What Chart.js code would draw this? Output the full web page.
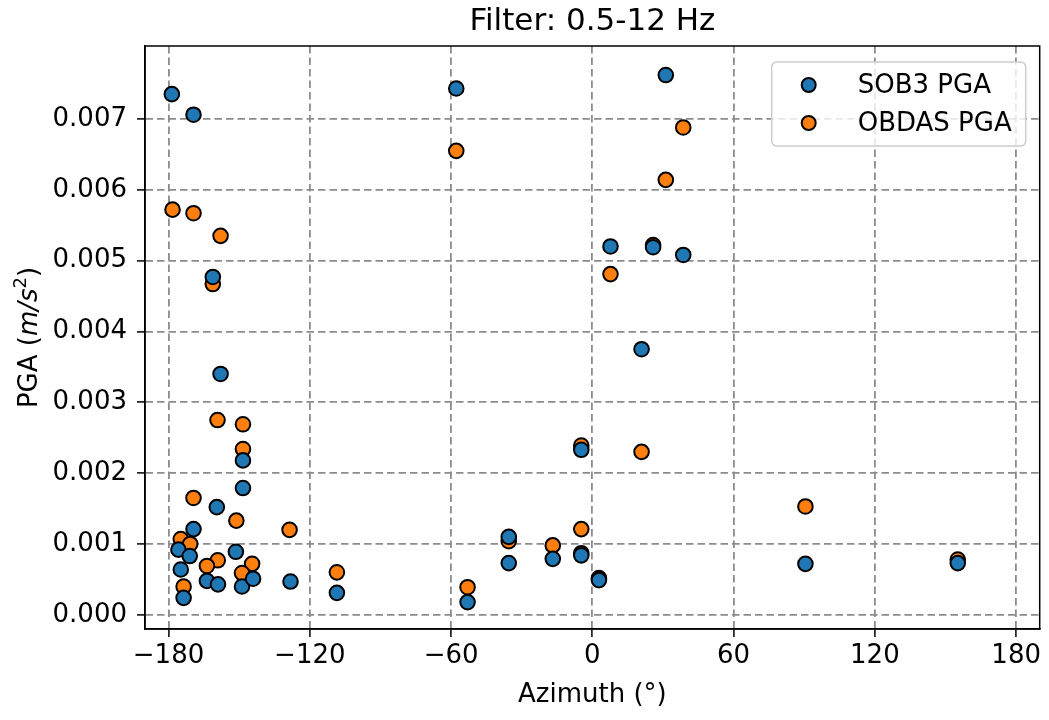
<!DOCTYPE html>
<html>
<head>
<meta charset="utf-8">
<script src="https://cdn.jsdelivr.net/npm/chart.js@4/dist/chart.umd.min.js"></script>
<style>
    body { margin: 0; background: #fff; }
    #wrap { width: 1049px; height: 720px; }
</style>
</head>
<body>
<div id="wrap"><canvas id="pgaChart" width="1049" height="720"></canvas></div>
<script>
// azimuth (deg) and PGA (m/s^2)
const sob3Azimuth = [-178.6, -169.4, -161.2, -157.9, -148.4, -148.4, -159.5, -169.4, -175.8, -171.0,
    -151.4, -174.8, -163.7, -159.0, -148.8, -144.1, -173.6, -128.2, -108.5, -57.8,
    -53.0, -35.5, -35.5, -16.8, -4.7, -4.7, 2.8, 31.2, 7.7, 25.8,
    38.6, 20.9, 90.5, 155.2];
const sob3Pga = [0.00735, 0.00706, 0.00477, 0.00340, 0.00218, 0.00179, 0.00152, 0.00121, 0.00092, 0.00083,
    0.00089, 0.00064, 0.00048, 0.00043, 0.00040, 0.00051, 0.00024, 0.00047, 0.00031, 0.00743,
    0.00018, 0.00110, 0.00073, 0.00079, 0.00233, 0.00084, 0.00049, 0.00762, 0.00520, 0.00519,
    0.00508, 0.00375, 0.00072, 0.00073];

const obdasAzimuth = [-178.3, -169.4, -157.9, -161.2, -159.2, -148.4, -148.4, -169.4, -151.2, -128.6,
    -174.8, -170.8, -159.1, -163.7, -144.5, -148.8, -173.6, -108.5, -57.8, -53.0,
    -35.5, -16.8, -4.7, -4.7, -4.7, 2.8, 38.6, 31.2, 25.8, 7.7,
    20.9, 90.5, 155.2];
const obdasPga = [0.00572, 0.00567, 0.00535, 0.00467, 0.00275, 0.00269, 0.00234, 0.00165, 0.00133, 0.00120,
    0.00107, 0.00100, 0.00077, 0.00069, 0.00072, 0.00059, 0.00040, 0.00060, 0.00655, 0.00039,
    0.00104, 0.00098, 0.00239, 0.00121, 0.00087, 0.00052, 0.00688, 0.00614, 0.00522, 0.00481,
    0.00230, 0.00153, 0.00078];

const xTicks = [-180, -120, -60, 0, 60, 120, 180];
const yTicks = [0, 0.001, 0.002, 0.003, 0.004, 0.005, 0.006, 0.007];

const seriesNames = ['SOB3 PGA', 'OBDAS PGA'];
const blue = '#1f77b4';
const orange = '#ff7f0e';

const FONT = 'DejaVu Sans';
const gridColor = '#8c8c8c';

function toPoints(xs, ys) {
    return xs.map((x, i) => ({ x: x, y: ys[i] }));
}

// box around the plot like matplotlib's spines
const frame = {
    id: 'frame',
    afterDatasetsDraw(chart) {
        const { ctx, chartArea: a } = chart;
        ctx.save();
        ctx.strokeStyle = '#000';
        ctx.lineWidth = 1.5;
        ctx.strokeRect(a.left, a.top, a.right - a.left, a.bottom - a.top);
        ctx.restore();
    }
};

// y label with italic units and a raised 2, like mathtext
const yLabel = {
    id: 'yLabel',
    afterDraw(chart) {
        const { ctx, chartArea: a } = chart;
        const parts = [
            { t: 'PGA (', f: '26px "' + FONT + '"', dy: 0 },
            { t: 'm/s', f: 'oblique 26px "' + FONT + '"', dy: 0 },
            { t: '2', f: '18px "' + FONT + '"', dy: -11 },
            { t: ')', f: '26px "' + FONT + '"', dy: 0 }
        ];
        ctx.save();
        let total = 0;
        parts.forEach(p => { ctx.font = p.f; p.w = ctx.measureText(p.t).width; total += p.w; });
        ctx.translate(37, (a.top + a.bottom) / 2);
        ctx.rotate(-Math.PI / 2);
        ctx.fillStyle = '#000';
        ctx.textBaseline = 'alphabetic';
        let x = -total / 2;
        parts.forEach(p => {
            ctx.font = p.f;
            ctx.fillText(p.t, x, p.dy);
            x += p.w;
        });
        ctx.restore();
    }
};

// legend drawn inside the upper right corner of the plot
const innerLegend = {
    id: 'innerLegend',
    afterDraw(chart) {
        const { ctx, chartArea: a } = chart;
        const boxW = 254, boxH = 84;
        const x0 = a.right - 14 - boxW, y0 = a.top + 16;
        ctx.save();
        ctx.beginPath();
        ctx.roundRect(x0, y0, boxW, boxH, 5);
        ctx.fillStyle = 'rgba(255,255,255,0.8)';
        ctx.fill();
        ctx.strokeStyle = '#cccccc';
        ctx.lineWidth = 1.5;
        ctx.stroke();
        ctx.font = '26px "' + FONT + '"';
        ctx.textBaseline = 'middle';
        chart.data.datasets.forEach((ds, i) => {
            const cy = y0 + 23 + i * 38;
            ctx.beginPath();
            ctx.arc(x0 + 37, cy, 7, 0, Math.PI * 2);
            ctx.fillStyle = ds.backgroundColor;
            ctx.fill();
            ctx.lineWidth = 2;
            ctx.strokeStyle = '#000';
            ctx.stroke();
            ctx.fillStyle = '#000';
            ctx.fillText(ds.label, x0 + 86, cy + 1);
        });
        ctx.restore();
    }
};

const gridOpts = {
    color: gridColor,
    lineWidth: 1.8,
    tickLength: 8,
    tickColor: '#000',
    tickWidth: 1.5,
    tickBorderDash: []
};

new Chart(document.getElementById('pgaChart'), {
    type: 'scatter',
    data: {
        datasets: [{
            label: seriesNames[0],
            data: toPoints(sob3Azimuth, sob3Pga),
            backgroundColor: blue,
            borderColor: '#000',
            borderWidth: 2,
            pointRadius: 7.3
        }, {
            label: seriesNames[1],
            data: toPoints(obdasAzimuth, obdasPga),
            backgroundColor: orange,
            borderColor: '#000',
            borderWidth: 2,
            pointRadius: 7.3
        }]
    },
    options: {
        responsive: false,
        animation: false,
        layout: { padding: { left: 0, right: 8, top: 0, bottom: 0 } },
        plugins: {
            legend: { display: false },
            tooltip: { enabled: false },
            title: {
                display: true,
                fullSize: false,
                text: 'Filter: 0.5-12 Hz',
                color: '#000',
                font: { family: FONT, size: 31, weight: 'normal', lineHeight: 1.2 },
                padding: { top: 3, bottom: 5.8 }
            }
        },
        scales: {
            x: {
                type: 'linear',
                min: -190,
                max: 190,
                afterBuildTicks: scale => { scale.ticks = xTicks.map(v => ({ value: v })); },
                afterFit: scale => { scale.height = 91; },
                ticks: {
                    color: '#000',
                    font: { family: FONT, size: 26 },
                    padding: 4,
                    maxRotation: 0,
                    callback: v => v < 0 ? '\u2212' + Math.abs(v) : String(v)
                },
                grid: gridOpts,
                border: { color: '#000', width: 1.5, dash: [7.5, 4] },
                title: {
                    display: true,
                    text: 'Azimuth (°)',
                    color: '#000',
                    font: { family: FONT, size: 26 },
                    padding: { top: 0, bottom: 9 }
                }
            },
            y: {
                type: 'linear',
                min: -0.0002,
                max: 0.00803,
                afterBuildTicks: scale => { scale.ticks = yTicks.map(v => ({ value: v })); },
                afterFit: scale => { scale.width = 145; },
                ticks: {
                    color: '#000',
                    font: { family: FONT, size: 26 },
                    padding: 10,
                    callback: v => v.toFixed(3)
                },
                grid: gridOpts,
                border: { color: '#000', width: 1.5, dash: [7.5, 4] },
                title: { display: false }
            }
        }
    },
    plugins: [frame, yLabel, innerLegend]
});
</script>
</body>
</html>
